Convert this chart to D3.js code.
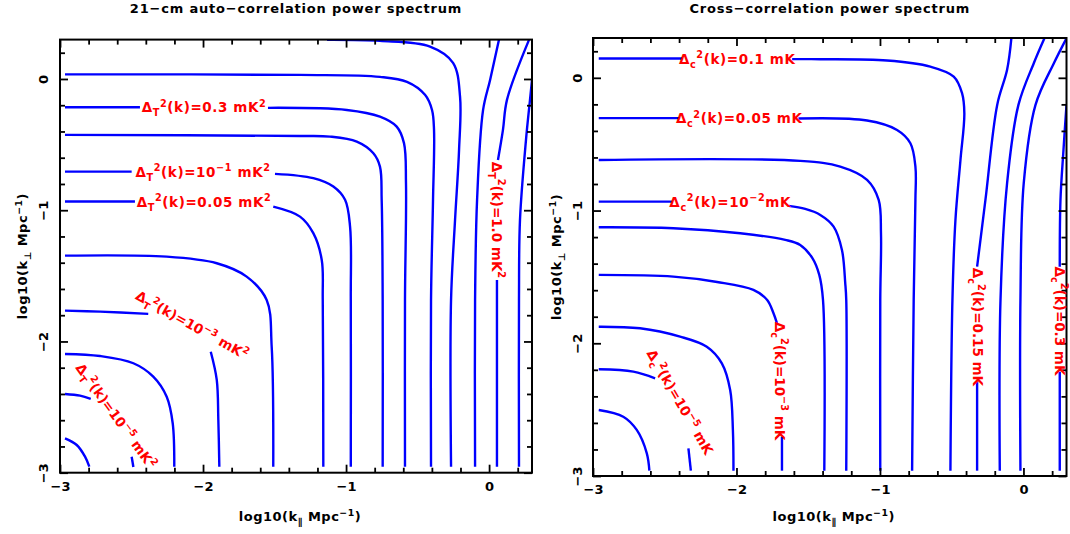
<!DOCTYPE html>
<html><head><meta charset="utf-8">
<script src="https://cdn.jsdelivr.net/npm/d3@7"></script>
<style>
html,body{margin:0;padding:0;background:#fff;}
svg{display:block;}
text{font-family:'DejaVu Sans',sans-serif;font-weight:bold;}
</style></head><body>
<svg id="chart" width="1070" height="534"></svg>
<script>
// ---------------- DATA (log10 k units) ----------------
const panelTitles = ["21\u2212cm auto\u2212correlation power spectrum", "Cross\u2212correlation power spectrum"];
const xTitle = "log10(k_{\u2225} Mpc^{\u22121})";
const yTitle = "log10(k_{\u22a5} Mpc^{\u22121})";
const xDomain = [-3, 0.3];
const yDomain = [-3, 0.3];
const majorTicks = [-3, -2, -1, 0];
const majorTickLabels = ["\u22123", "\u22122", "\u22121", "0"];
const minorTicks = [-2.8,-2.6,-2.4,-2.2,-1.8,-1.6,-1.4,-1.2,-0.8,-0.6,-0.4,-0.2,0.2];

// each contour = list of visible segments, each segment = list of [log10 k_par, log10 k_perp]
const autoContours = [
 [[[-2.965,-2.738],[-2.883,-2.789],[-2.825,-2.878],[-2.795,-2.954]]],
 [[[-2.965,-2.400],[-2.860,-2.413],[-2.785,-2.438]], [[-2.499,-2.878],[-2.487,-2.957]]],
 [[[-2.965,-2.095],[-2.720,-2.111],[-2.487,-2.166],[-2.348,-2.268],[-2.254,-2.421],[-2.212,-2.623],[-2.201,-2.954]]],
 [[[-2.965,-1.765],[-2.720,-1.773],[-2.383,-1.790]], [[-1.946,-2.078],[-1.904,-2.293],[-1.893,-2.598],[-1.886,-2.954]]],
 [[[-2.965,-1.346],[-2.254,-1.354],[-1.904,-1.404],[-1.695,-1.506],[-1.555,-1.684],[-1.520,-2.040],[-1.509,-2.954]]],
 [[[-2.965,-0.934],[-2.476,-0.934]], [[-1.509,-0.973],[-1.322,-1.049],[-1.229,-1.175],[-1.170,-1.379],[-1.163,-1.684],[-1.159,-2.954]]],
 [[[-2.965,-0.706],[-2.499,-0.706]], [[-1.497,-0.723],[-1.229,-0.756],[-1.089,-0.820],[-1.007,-0.921],[-0.972,-1.125],[-0.967,-1.684],[-0.967,-2.954]]],
 [[[-2.965,-0.426],[-1.322,-0.434],[-1.112,-0.439],[-0.925,-0.477],[-0.809,-0.566],[-0.763,-0.668],[-0.751,-0.921],[-0.744,-1.684],[-0.744,-2.954]]],
 [[[-2.965,-0.215],[-2.441,-0.215]], [[-1.546,-0.220],[-0.995,-0.236],[-0.763,-0.287],[-0.646,-0.363],[-0.595,-0.489],[-0.581,-0.794],[-0.588,-1.684],[-0.588,-2.954]]],
 [[[-2.965,0.035],[-1.322,0.031],[-0.763,0.016],[-0.574,-0.022],[-0.448,-0.121],[-0.399,-0.236],[-0.385,-0.388],[-0.392,-0.921],[-0.406,-1.684],[-0.406,-2.954]]],
 [[[-1.133,0.298],[-0.763,0.290],[-0.413,0.247],[-0.252,0.123],[-0.203,-0.136],[-0.210,-0.540],[-0.238,-1.074],[-0.266,-1.684],[-0.266,-2.954]]],
 [[[0.069,0.298],[0.007,-0.007],[-0.042,-0.236],[-0.084,-0.921],[-0.098,-1.684],[-0.098,-2.954]]],
 [[[0.279,0.298],[0.125,-0.159],[0.097,-0.388],[0.062,-0.617]], [[0.055,-1.531],[0.055,-2.954]]],
 [[[0.300,-0.007],[0.286,-0.159],[0.258,-0.464],[0.216,-1.074],[0.209,-1.684],[0.209,-2.954]]]
];

const crossContours = [
 [[[-2.96,-2.503],[-2.789,-2.553],[-2.695,-2.653],[-2.625,-2.829],[-2.607,-2.96]]],
 [[[-2.96,-2.196],[-2.719,-2.214],[-2.567,-2.264]], [[-2.335,-2.791],[-2.318,-2.96]]],
 [[[-2.96,-1.875],[-2.672,-1.887],[-2.393,-1.950],[-2.207,-2.026],[-2.102,-2.151],[-2.044,-2.352],[-2.025,-2.653],[-2.021,-2.96]]],
 [[[-2.96,-1.485],[-2.440,-1.498],[-2.135,-1.538],[-1.882,-1.598],[-1.786,-1.674],[-1.742,-1.774],[-1.718,-1.849]], [[-1.683,-2.704],[-1.683,-2.96]]],
 [[[-2.96,-1.126],[-2.440,-1.133],[-1.974,-1.171],[-1.660,-1.221],[-1.556,-1.259],[-1.472,-1.357],[-1.423,-1.485],[-1.397,-1.674],[-1.388,-2.96]]],
 [[[-2.96,-0.933],[-2.451,-0.933]], [[-1.637,-0.965],[-1.521,-0.988],[-1.416,-1.033],[-1.323,-1.121],[-1.265,-1.297],[-1.242,-1.548],[-1.235,-1.674],[-1.235,-2.96]]],
 [[[-2.96,-0.619],[-1.556,-0.626],[-1.277,-0.669],[-1.090,-0.769],[-1.009,-0.920],[-0.993,-1.171],[-0.998,-1.674],[-0.998,-2.96]]],
 [[[-2.96,-0.304],[-2.393,-0.304]], [[-1.568,-0.307],[-1.090,-0.322],[-0.881,-0.393],[-0.788,-0.493],[-0.753,-0.669],[-0.753,-0.920],[-0.765,-1.674],[-0.776,-2.96]]],
 [[[-2.96,0.146],[-2.372,0.146]], [[-1.612,0.141],[-1.416,0.140],[-0.951,0.130],[-0.649,0.084],[-0.486,0.009],[-0.428,-0.116],[-0.412,-0.267],[-0.439,-0.619],[-0.474,-1.071],[-0.495,-1.674],[-0.509,-2.96]]],
 [[[-0.084,0.300],[-0.114,0.060],[-0.183,-0.204],[-0.265,-0.920],[-0.323,-1.423]], [[-0.323,-2.289],[-0.323,-2.96]]],
 [[[0.147,0.300],[0.072,0.110],[-0.035,-0.204],[-0.114,-0.794],[-0.160,-1.674],[-0.165,-2.96]]],
 [[[0.300,0.298],[0.212,0.110],[0.084,-0.204],[0.002,-0.794],[-0.021,-1.674],[-0.021,-2.96]]],
 [[[0.300,-0.204],[0.279,-0.543],[0.258,-0.920],[0.253,-1.423]], [[0.253,-2.214],[0.253,-2.96]]]
];

const autoLabelText = [
 "\u0394_{T}^{2}(k)=0.3 mK^{2}",
 "\u0394_{T}^{2}(k)=10^{\u22121} mK^{2}",
 "\u0394_{T}^{2}(k)=0.05 mK^{2}",
 "\u0394_{T}^{2}(k)=10^{\u22123} mK^{2}",
 "\u0394_{T}^{2}(k)=10^{\u22125} mK^{2}",
 "\u0394_{T}^{2}(k)=1.0 mK^{2}"
];
const autoLabelAt = [[-1.993,-0.216],[-2.000,-0.708],[-1.993,-0.937],[-2.077,-1.874],[-2.608,-2.568],[0.055,-1.074]];
const autoLabelAngle = [0,0,0,29,54,90];

const crossLabelText = [
 "\u0394_{c}^{2}(k)=0.1 mK",
 "\u0394_{c}^{2}(k)=0.05 mK",
 "\u0394_{c}^{2}(k)=10^{\u22122}mK",
 "\u0394_{c}^{2}(k)=10^{\u22123} mK",
 "\u0394_{c}^{2}(k)=10^{\u22125} mK",
 "\u0394_{c}^{2}(k)=0.15 mK",
 "\u0394_{c}^{2}(k)=0.3 mK"
];
const crossLabelAt = [[-1.995,0.143],[-1.981,-0.306],[-2.044,-0.935],[-1.695,-2.284],[-2.393,-2.442],[-0.321,-1.877],[0.253,-1.832]];
const crossLabelAngle = [0,0,0,90,60,90,90];

// ---------------- DRAWING ----------------
const svg = d3.select("#chart");
const LABEL_FS = 13.5, TICK_FS = 13, TITLE_FS = 13;

function rich(t, s, fs) {
  const re = /([_^])\{([^}]*)\}|([^_^]+)/g;
  let m, cur = 0;
  while ((m = re.exec(s))) {
    let target = 0, size = fs, str;
    if (m[1]) { target = m[1] === "_" ? 0.3 * fs : -0.42 * fs; size = 0.72 * fs; str = m[2]; }
    else { str = m[3]; }
    t.append("tspan").attr("dy", (target - cur).toFixed(2)).attr("font-size", size).text(str);
    cur = target;
  }
}

const panels = [
  {id:"a", l:60, r:532, t:39.6, b:472.7, title:panelTitles[0], contours:autoContours,
   lt:autoLabelText, la:autoLabelAt, lang:autoLabelAngle, yTitleX:27, yTickX:43},
  {id:"b", l:593, r:1066.5, t:38, b:476, title:panelTitles[1], contours:crossContours,
   lt:crossLabelText, la:crossLabelAt, lang:crossLabelAngle, yTitleX:561, yTickX:577}
];

panels.forEach(p => {
  const x = d3.scaleLinear().domain(xDomain).range([p.l, p.r]);
  const y = d3.scaleLinear().domain(yDomain).range([p.b, p.t]);
  const g = svg.append("g");

  g.append("clipPath").attr("id", "clip" + p.id).append("rect")
    .attr("x", p.l).attr("y", p.t).attr("width", p.r - p.l).attr("height", p.b - p.t);

  const line = d3.line().x(d => x(d[0])).y(d => y(d[1])).curve(d3.curveCatmullRom.alpha(0.5));
  g.append("g").attr("clip-path", `url(#clip${p.id})`)
    .selectAll("path").data(p.contours.flat(1)).join("path")
    .attr("d", line).attr("fill", "none").attr("stroke", "#0000ff").attr("stroke-width", 2.4);

  // axes: ticks inward on all sides
  const styleAxis = sel => { sel.select(".domain").remove(); sel.selectAll("line").attr("stroke", "#000").attr("stroke-width", 1.8); };
  g.append("g").attr("transform", `translate(0,${p.b})`).call(d3.axisBottom(x).tickValues(minorTicks).tickSize(-5).tickFormat("")).call(styleAxis);
  g.append("g").attr("transform", `translate(0,${p.t})`).call(d3.axisTop(x).tickValues(minorTicks).tickSize(-5).tickFormat("")).call(styleAxis);
  g.append("g").attr("transform", `translate(${p.l},0)`).call(d3.axisLeft(y).tickValues(minorTicks).tickSize(-5).tickFormat("")).call(styleAxis);
  g.append("g").attr("transform", `translate(${p.r},0)`).call(d3.axisRight(y).tickValues(minorTicks).tickSize(-5).tickFormat("")).call(styleAxis);
  g.append("g").attr("transform", `translate(0,${p.t})`).call(d3.axisTop(x).tickValues(majorTicks).tickSize(-8).tickFormat("")).call(styleAxis);
  g.append("g").attr("transform", `translate(${p.r},0)`).call(d3.axisRight(y).tickValues(majorTicks).tickSize(-8).tickFormat("")).call(styleAxis);
  const xb = g.append("g").attr("transform", `translate(0,${p.b})`)
    .call(d3.axisBottom(x).tickValues(majorTicks).tickSize(-8).tickPadding(9).tickFormat((d, i) => majorTickLabels[i]))
    .call(styleAxis);
  xb.selectAll("text").attr("font-size", TICK_FS).attr("fill", "#000").attr("font-family", null);
  const yl = g.append("g").attr("transform", `translate(${p.l},0)`)
    .call(d3.axisLeft(y).tickValues(majorTicks).tickSize(-8).tickFormat((d, i) => majorTickLabels[i]))
    .call(styleAxis);
  yl.selectAll("text").attr("font-size", TICK_FS).attr("fill", "#000").attr("font-family", null)
    .attr("x", null).attr("dy", "0.36em").attr("text-anchor", "middle")
    .attr("transform", `translate(${p.yTickX - p.l},0) rotate(-90)`);

  // frame
  g.append("rect").attr("x", p.l).attr("y", p.t).attr("width", p.r - p.l).attr("height", p.b - p.t)
    .attr("fill", "none").attr("stroke", "#000").attr("stroke-width", 2);

  // contour labels
  p.lt.forEach((s, i) => {
    const [lx, ly] = p.la[i];
    const t = g.append("g").attr("transform", `translate(${x(lx)},${y(ly)}) rotate(${p.lang[i]})`)
      .append("text").attr("text-anchor", "middle").attr("y", 0.36 * LABEL_FS)
      .attr("fill", "#ff0000").attr("font-size", LABEL_FS).attr("letter-spacing", p.lang[i] === 0 ? 0.6 : 0);
    rich(t, s, LABEL_FS);
  });

  // titles
  g.append("text").attr("x", (p.l + p.r) / 2).attr("y", 12.5).attr("text-anchor", "middle")
    .attr("font-size", TITLE_FS).attr("letter-spacing", 0.8).attr("fill", "#000").text(p.title);
  const xt = g.append("text").attr("x", (p.l + p.r) / 2 + 4).attr("y", 521).attr("text-anchor", "middle")
    .attr("font-size", TITLE_FS).attr("letter-spacing", 0.5).attr("fill", "#000");
  rich(xt, xTitle, TITLE_FS);
  const yt = g.append("text").attr("transform", `translate(${p.yTitleX},${(p.t + p.b) / 2}) rotate(-90)`)
    .attr("text-anchor", "middle").attr("font-size", TITLE_FS).attr("letter-spacing", 0.5).attr("fill", "#000");
  rich(yt, yTitle, TITLE_FS);
});
</script></body></html>
